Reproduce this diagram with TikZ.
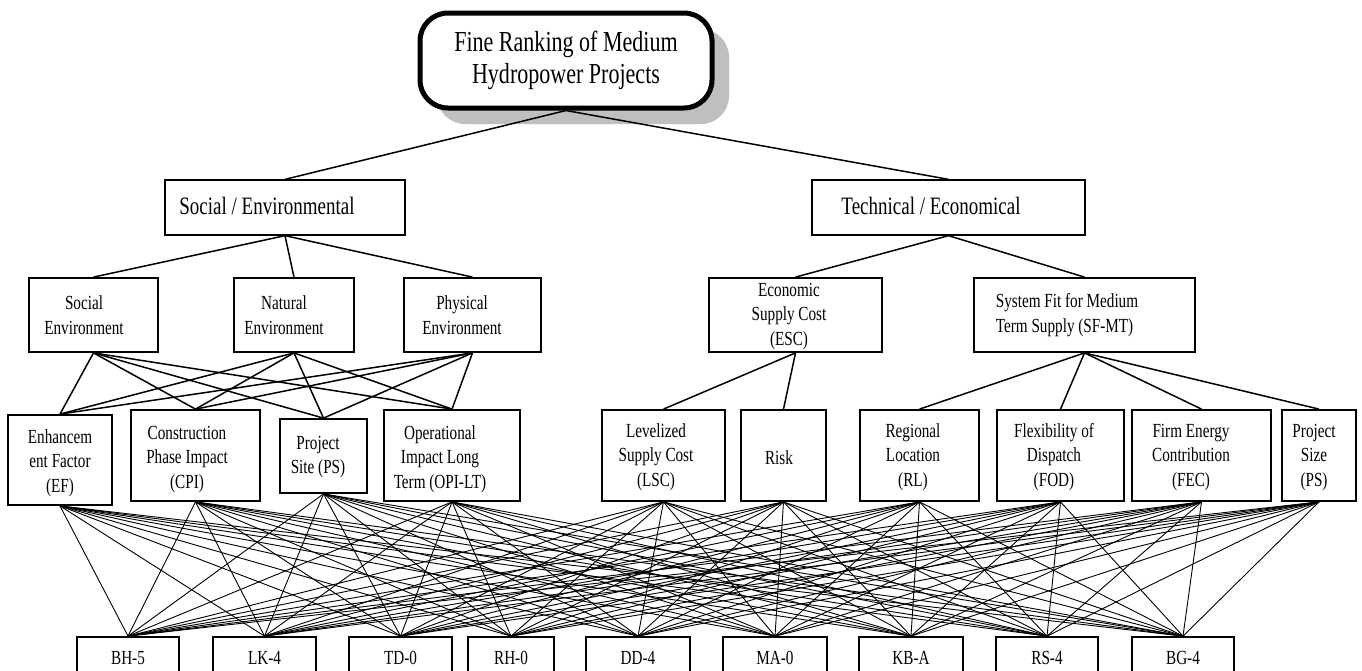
\documentclass[tikz,border=0pt]{standalone}
\usepackage{fontspec}
\setmainfont{Liberation Serif}[FakeStretch=0.76]
\begin{document}
\begin{tikzpicture}[x=1pt,y=-1pt,
  boxst/.style={draw, line width=1.8pt, inner sep=0pt, rectangle},
  thinbox/.style={draw, line width=1.3pt, inner sep=0pt, rectangle},
  txt/.style={align=center, inner sep=0pt, font=\fontsize{20}{24.5}\selectfont},
  bigtxt/.style={align=left, inner sep=0pt, font=\fontsize{25}{28}\selectfont},
  titletxt/.style={align=center, inner sep=0pt, font=\fontsize{29}{32}\selectfont},
  conn/.style={line width=1.5pt},
  mesh/.style={line width=0.9pt}]
\newcommand\bx[6]{\node[#6, minimum width={#4-#2}, minimum height={#5-#3}] (#1) at ({(#2+#4)/2},{(#3+#5)/2}) {};}
\clip (0,0) rectangle (1362,670);
\fill[white] (0,0) rectangle (1362,670);
% title
\fill[gray!50, rounded corners=28pt] (437,29) rectangle (729,124);
\node[draw, line width=5pt, fill=white, rounded corners=28pt, inner sep=0pt,
  minimum width=292, minimum height=95] (top) at (566,60.5) {};
\node[titletxt] (ttop) at (566,60) {Fine Ranking of Medium\\Hydropower Projects};
% level 2
\bx{se}{165}{180}{405}{235}{thinbox}
\node[bigtxt] (tse) at (267,206) {Social / Environmental};
\bx{te}{812}{180}{1085}{235}{thinbox}
\node[bigtxt] (tte) at (931,206) {Technical / Economical};
% level 3
\bx{socenv}{29}{278}{158}{352}{boxst}
\node[txt] at (84,315) {Social\\Environment};
\bx{natenv}{234}{278}{354}{352}{boxst}
\node[txt] at (284,315) {Natural\\Environment};
\bx{physenv}{404}{278}{541}{352}{boxst}
\node[txt] at (462,315) {Physical\\Environment};
\bx{esc}{709}{278}{882}{352}{boxst}
\node[txt] at (789,316) {Economic\\Supply Cost\\(ESC)};
\bx{sfmt}{974}{278}{1195}{352}{boxst}
\node[txt, align=left] at (1067,315) {System Fit for Medium\\Term Supply (SF-MT)};
% level 4
\bx{ef}{8}{415}{112}{505}{boxst}
\node[txt] at (60,463) {Enhancem\\ent Factor\\(EF)};
\bx{cpi}{131}{410}{260}{501}{boxst}
\node[txt] at (187,459) {Construction\\Phase Impact\\(CPI)};
\bx{ps}{280}{419}{367}{493}{boxst}
\node[txt] at (318,457) {Project\\Site (PS)};
\bx{opi}{384}{410}{520}{501}{boxst}
\node[txt] at (440,459) {Operational\\Impact Long\\Term (OPI-LT)};
\bx{lsc}{602}{410}{725}{501}{boxst}
\node[txt] at (656,457) {Levelized\\Supply Cost\\(LSC)};
\bx{risk}{741}{410}{826}{501}{boxst}
\node[txt] at (779,458) {Risk};
\bx{rl}{860}{410}{979}{501}{boxst}
\node[txt] at (913,457) {Regional\\Location\\(RL)};
\bx{fod}{997}{410}{1124}{501}{boxst}
\node[txt] at (1054,457) {Flexibility of\\Dispatch\\(FOD)};
\bx{fec}{1132}{410}{1271}{501}{boxst}
\node[txt] at (1191,457) {Firm Energy\\Contribution\\(FEC)};
\bx{pss}{1282}{410}{1356}{501}{boxst}
\node[txt] at (1314,457) {Project\\Size\\(PS)};
% bottom
\bx{bh}{77}{637}{179}{690}{boxst}
\bx{lk}{213}{637}{316}{690}{boxst}
\bx{td}{349}{637}{452}{690}{boxst}
\bx{rh}{468}{637}{554}{690}{boxst}
\bx{dd}{586}{637}{690}{690}{boxst}
\bx{ma}{723}{637}{827}{690}{boxst}
\bx{kb}{859}{637}{963}{690}{boxst}
\bx{rs}{996}{637}{1098}{690}{boxst}
\bx{bg}{1132}{637}{1234}{690}{boxst}
\node[txt] at (bh.north |- 0,658) {BH-5};
\node[txt] at (lk.north |- 0,658) {LK-4};
\node[txt] at (td.north |- 0,658) {TD-0};
\node[txt] at (rh.north |- 0,658) {RH-0};
\node[txt] at (dd.north |- 0,658) {DD-4};
\node[txt] at (ma.north |- 0,658) {MA-0};
\node[txt] at (kb.north |- 0,658) {KB-A};
\node[txt] at (rs.north |- 0,658) {RS-4};
\node[txt] at (bg.north |- 0,658) {BG-4};
% connectors
\draw[conn] (top.south) -- (se.north);
\draw[conn] (top.south) -- (te.north);
\foreach \c in {socenv,natenv,physenv} \draw[conn] (se.south) -- (\c.north);
\foreach \c in {esc,sfmt} \draw[conn] (te.south) -- (\c.north);
\foreach \p in {socenv,natenv,physenv}
  \foreach \c in {ef,cpi,ps,opi} \draw[conn] (\p.south) -- (\c.north);
\foreach \c in {lsc,risk} \draw[conn] (esc.south) -- (\c.north);
\foreach \c in {rl,fod,fec,pss} \draw[conn] (sfmt.south) -- (\c.north);
\foreach \p in {ef,cpi,ps,opi,lsc,risk,rl,fod,fec,pss}
  \foreach \c in {bh,lk,td,rh,dd,ma,kb,rs,bg} \draw[mesh] (\p.south) -- (\c.north);
\end{tikzpicture}
\end{document}
